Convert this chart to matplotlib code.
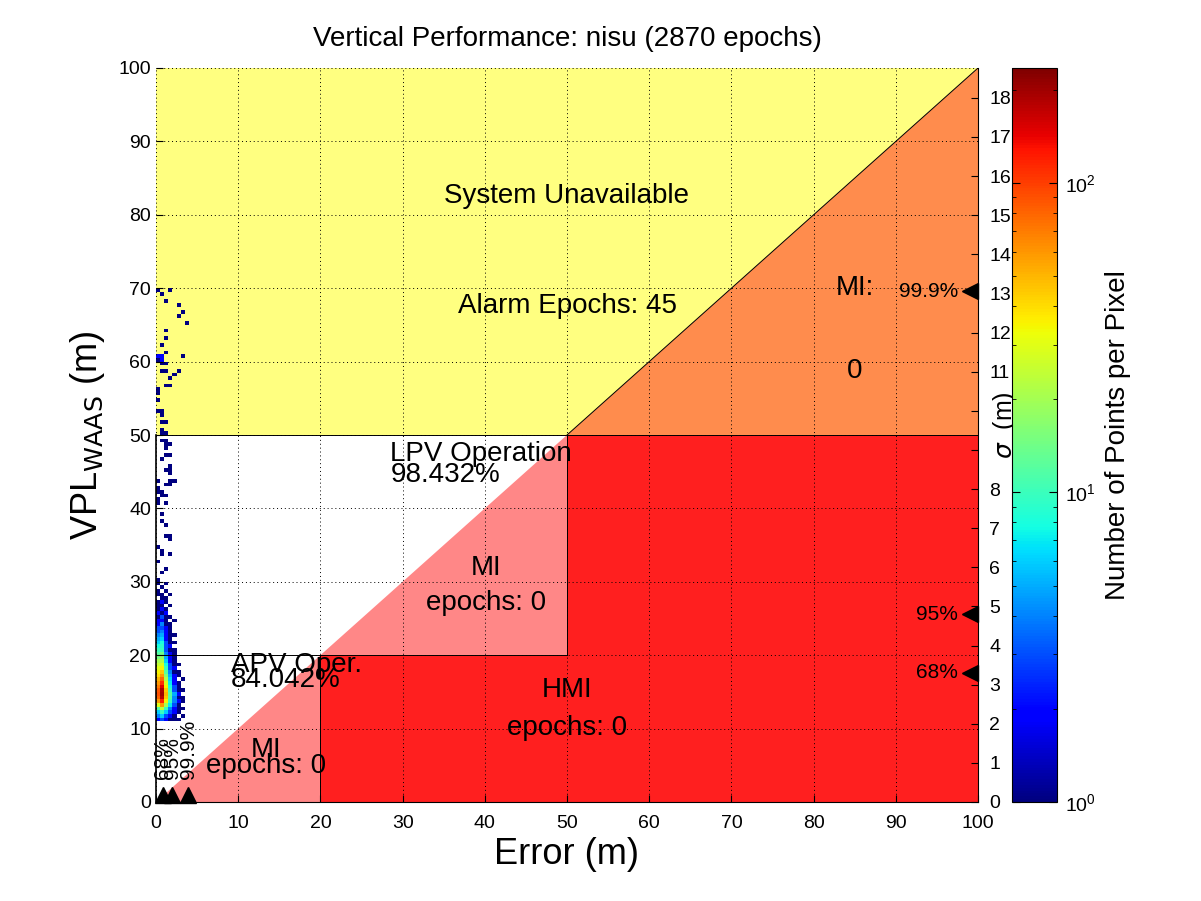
import numpy as np
import matplotlib
matplotlib.use("Agg")
import matplotlib.pyplot as plt
from matplotlib.colors import LogNorm
from matplotlib.patches import Polygon

plt.rcParams["font.family"] = ["Liberation Sans", "DejaVu Sans"]

# ---- data ---------------------------------------------------------------
n_epochs = 2870
alarm_epochs = 45
lpv_pct = "98.432%"
apv_pct = "84.042%"
lpv_val = 50
apv_val = 20
vpl_per_sigma = 5.33

# 2D histogram, bin size 0.5 m x 0.5 m
bin_w = 0.5
# dense block: rows start at VPL 11.0, step 0.5; columns x = 0..3.5
dense_vpl0 = 11.0
dense_counts = [
    [2, 3, 2, 1, 1, 1, 0],
    [4, 6, 3, 2, 1, 0, 1],
    [6, 10, 6, 3, 2, 1, 0],
    [12, 25, 10, 4, 2, 1, 1],
    [30, 60, 20, 7, 3, 1, 0],
    [60, 120, 35, 10, 4, 2, 1],
    [80, 180, 45, 12, 4, 1, 1],
    [90, 200, 50, 12, 5, 2, 0],
    [85, 190, 45, 10, 3, 1, 1],
    [70, 150, 35, 8, 3, 1, 0],
    [60, 110, 28, 7, 2, 1, 0],
    [50, 80, 22, 6, 2, 0, 1],
    [40, 60, 16, 5, 2, 1, 0],
    [35, 45, 12, 4, 1, 1, 0],
    [30, 35, 10, 3, 2, 0, 0],
    [25, 28, 8, 3, 1, 1, 0],
    [20, 22, 6, 2, 1, 0, 0],
    [15, 18, 5, 2, 1, 0, 0],
    [12, 14, 4, 2, 1, 0, 0],
    [10, 10, 3, 1, 1, 0, 0],
    [8, 9, 3, 2, 0, 0, 0],
    [6, 8, 3, 1, 1, 0, 0],
    [5, 6, 2, 1, 0, 0, 0],
    [4, 5, 2, 1, 1, 0, 0],
    [3, 4, 2, 1, 0, 0, 0],
    [3, 3, 2, 1, 0, 0, 0],
    [2, 4, 1, 1, 0, 0, 0],
    [2, 2, 1, 0, 1, 0, 0],
    [1, 3, 1, 1, 0, 0, 0],
    [2, 1, 2, 0, 0, 0, 0],
    [1, 2, 1, 0, 0, 0, 0],
    [1, 1, 0, 1, 0, 0, 0],
    [1, 2, 1, 0, 0, 0, 0],
    [0, 1, 1, 0, 0, 0, 0],
    [1, 1, 0, 1, 0, 0, 0],
]
# sparse cells above: (VPL bin lower edge, x bin index, count)
sparse_vpl = [69.5, 69.5, 69.0, 68.0, 67.5, 66.5, 66.0, 65.0, 64.0, 63.0,
              62.0, 61.0, 60.5, 60.5, 60.5, 60.0, 60.0, 59.5, 59.5, 58.5,
              58.5, 58.5, 58.0, 57.5, 56.5, 56.5, 56.0, 55.5, 54.5, 53.0,
              53.0, 52.5, 51.5, 51.5, 50.5, 50.0, 50.0, 49.0, 49.0, 48.5,
              48.5, 48.0, 47.0, 47.0, 46.5, 45.5, 45.0, 45.0, 44.5, 43.5,
              43.5, 43.5, 43.0, 43.0, 42.5, 42.0, 42.0, 41.5, 41.5, 41.0,
              40.5, 40.5, 39.0, 38.0, 37.5, 36.0, 36.0, 35.5, 34.5, 34.0,
              33.5, 33.5, 32.5, 31.5, 31.0, 30.0, 29.5, 29.5, 29.0, 28.5,
              28.5]
sparse_xbin = [0, 3, 1, 2, 5, 6, 5, 7, 2, 2,
               1, 2, 0, 1, 6, 0, 1, 1, 2, 1,
               2, 5, 4, 3, 2, 3, 0, 0, 0, 0,
               1, 1, 1, 2, 1, 1, 2, 1, 2, 2,
               3, 2, 2, 3, 1, 3, 2, 3, 3, 0,
               3, 4, 2, 3, 0, 0, 1, 1, 2, 0,
               0, 2, 1, 1, 2, 2, 3, 3, 0, 1,
               1, 3, 0, 2, 1, 0, 0, 2, 1, 0,
               2]
sparse_count = [1, 1, 1, 1, 1, 1, 1, 1, 1, 1,
                1, 1, 2, 2, 1, 1, 2, 1, 1, 1,
                1, 1, 1, 1, 1, 1, 1, 1, 1, 1,
                1, 1, 1, 1, 1, 1, 1, 1, 1, 1,
                1, 1, 1, 1, 1, 1, 1, 1, 1, 1,
                1, 1, 1, 1, 1, 1, 1, 1, 1, 1,
                1, 1, 1, 1, 1, 1, 1, 1, 1, 1,
                1, 1, 1, 1, 1, 1, 1, 1, 1, 1,
                1]

# percentile markers
err_pct_labels = ["68%", "95%", "99.9%"]
err_pct_values = [0.85, 1.95, 3.9]
vpl_pct_labels = ["99.9%", "95%", "68%"]
vpl_pct_values = [69.6, 25.6, 17.6]

# ---- build histogram grid --------------------------------------------------
x_edges = np.arange(0, 4.0 + bin_w, bin_w)
y_edges = np.arange(0, 100 + bin_w, bin_w)
H = np.zeros((len(y_edges) - 1, len(x_edges) - 1))
for i, row in enumerate(dense_counts):
    r = int(round((dense_vpl0 + i * bin_w) / bin_w))
    H[r, :len(row)] += row
for v, xb, c in zip(sparse_vpl, sparse_xbin, sparse_count):
    H[int(round(v / bin_w)), xb] += c
H = np.ma.masked_where(H <= 0, H)

# ---- figure --------------------------------------------------------------
fig = plt.figure(figsize=(12.01, 9.01), dpi=100)
ax = fig.add_axes([156 / 1201, 99 / 901, 822 / 1201, 734 / 901])

yellow = (1.0, 1.0, 0.5)
orange = (1.0, 0.55, 0.3)
pink = (1.0, 0.53, 0.53)
red = (1.0, 0.12, 0.12)

ax.add_patch(Polygon([(0, lpv_val), (0, 100), (100, 100), (lpv_val, lpv_val)],
                     closed=True, fc=yellow, ec="none", zorder=0))
ax.add_patch(Polygon([(lpv_val, lpv_val), (100, 100), (100, lpv_val)],
                     closed=True, fc=orange, ec="none", zorder=0))
ax.add_patch(Polygon([(0, 0), (lpv_val, lpv_val), (lpv_val, apv_val),
                      (apv_val, apv_val), (apv_val, 0)],
                     closed=True, fc=pink, ec="none", zorder=0))
ax.add_patch(Polygon([(apv_val, 0), (100, 0), (100, lpv_val), (lpv_val, lpv_val),
                      (lpv_val, apv_val), (apv_val, apv_val)],
                     closed=True, fc=red, ec="none", zorder=0))

lw = 0.7
ax.plot([lpv_val, 100], [lpv_val, 100], color="k", lw=lw)
ax.plot([0, 100], [lpv_val, lpv_val], color="k", lw=lw)
ax.plot([0, lpv_val], [apv_val, apv_val], color="k", lw=lw)
ax.plot([lpv_val, lpv_val], [apv_val, lpv_val], color="k", lw=lw)
ax.plot([apv_val, apv_val], [0, apv_val], color="k", lw=lw)
ax.plot([0, 0], [0, lpv_val], color="k", lw=1.2, clip_on=False)

mesh = ax.pcolormesh(x_edges, y_edges, H, cmap="jet",
                     norm=LogNorm(vmin=1, vmax=235), zorder=1)

ax.set_xlim(0, 100)
ax.set_ylim(0, 100)
ax.set_xticks(np.arange(0, 101, 10))
ax.set_yticks(np.arange(0, 101, 10))
ax.tick_params(direction="in", labelsize=14, length=5, right=False, top=False)
ax.tick_params(axis="x", pad=9)
ax.grid(True, color="k", linestyle=(0, (1, 3)), linewidth=0.7)
ax.set_axisbelow(False)
for s in ("left", "top", "right"):
    ax.spines[s].set_visible(False)

ax.set_title(f"Vertical Performance: nisu ({n_epochs} epochs)", fontsize=20, pad=16)
ax.set_xlabel("Error (m)", fontsize=26, labelpad=4)
ax.set_ylabel(r"VPL$_{\mathrm{WAAS}}$ (m)", fontsize=26, labelpad=8)

# region annotations
fs = 20
ax.text(50, 82.6, "System Unavailable", fontsize=fs, ha="center", va="center")
ax.text(50, 67.6, f"Alarm Epochs: {alarm_epochs}", fontsize=fs, ha="center", va="center")
ax.text(85, 70.0, "MI:", fontsize=fs, ha="center", va="center")
ax.text(85, 58.7, "0", fontsize=fs, ha="center", va="center")
ax.text(28.5, 47.4, "LPV Operation", fontsize=fs, ha="left", va="center")
ax.text(28.5, 44.5, lpv_pct, fontsize=fs, ha="left", va="center", fontweight="medium")
ax.text(40.1, 31.9, "MI", fontsize=fs, ha="center", va="center")
ax.text(40.1, 27.1, "epochs: 0", fontsize=fs, ha="center", va="center")
ax.text(9.1, 18.6, "APV Oper.", fontsize=fs, ha="left", va="center")
ax.text(9.1, 16.6, apv_pct, fontsize=fs, ha="left", va="center", fontweight="medium")
ax.text(50, 15.3, "HMI", fontsize=fs, ha="center", va="center")
ax.text(50, 10.1, "epochs: 0", fontsize=fs, ha="center", va="center")
ax.text(13.4, 7.1, "MI", fontsize=fs, ha="center", va="center")
ax.text(13.4, 4.9, "epochs: 0", fontsize=fs, ha="center", va="center")

# percentile markers on the error axis
for lab, xv in zip(err_pct_labels, err_pct_values):
    ax.plot(xv, 1.0, marker="^", color="k", ms=11, clip_on=False, zorder=5)
    ax.text(xv, 3.2, lab, rotation=90, fontsize=15, ha="center", va="bottom")

# percentile markers on the VPL axis
for lab, yv in zip(vpl_pct_labels, vpl_pct_values):
    ax.plot(99.0, yv, marker="<", color="k", ms=12, clip_on=False, zorder=5)
    ax.text(97.6, yv, lab, fontsize=15, ha="right", va="center")

# sigma axis on the right
ax2 = ax.twinx()
ax2.set_ylim(0, 100 / vpl_per_sigma)
ax2.set_yticks(np.arange(0, 19, 1))
ax2.tick_params(direction="in", labelsize=14, length=5, pad=8)
for s in ("left", "top", "bottom"):
    ax2.spines[s].set_visible(False)
ax2.text(1.033, 0.513, r"$\sigma$  (m)", transform=ax2.transAxes, rotation=90,
         fontsize=18, ha="center", va="center", clip_on=False,
         bbox=dict(fc="white", ec="none", pad=3))

# colorbar
cax = fig.add_axes([1012 / 1201, 99 / 901, 45 / 1201, 734 / 901])
cb = fig.colorbar(mesh, cax=cax)
cb.ax.tick_params(which="both", direction="in", left=True, right=True, labelsize=14)
cb.ax.tick_params(which="major", length=6, pad=6)
cb.ax.tick_params(which="minor", length=3)
cb.set_label("Number of Points per Pixel", fontsize=20, labelpad=6)

fig.savefig("out.png", dpi=100)
